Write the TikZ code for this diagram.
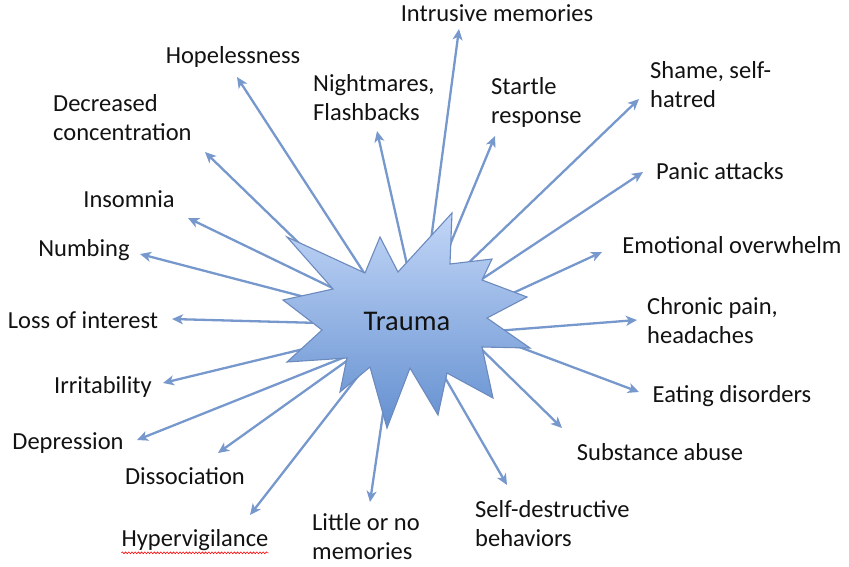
\documentclass[tikz,border=0pt]{standalone}
\usepackage{fontspec}
\setmainfont{Carlito}
\usetikzlibrary{arrows.meta,decorations.pathmorphing}
\definecolor{arrowc}{RGB}{118,152,204}
\definecolor{startop}{RGB}{194,214,247}
\definecolor{starbot}{RGB}{100,144,208}
\definecolor{starline}{RGB}{108,138,190}
\definecolor{txt}{RGB}{18,18,18}
\tikzset{
  lbl/.style={inner sep=0pt, text=txt, font=\fontsize{24.5}{29}\selectfont},
  lbll/.style={lbl, anchor=west, align=left},
  conn/.style={draw=arrowc, line width=2.3pt, -{Stealth[length=11pt,width=10pt,inset=3pt]}},
  starshape/.style={draw=starline, line width=1.1pt, top color=startop, bottom color=starbot, line join=miter},
}
\begin{document}
\begin{tikzpicture}[x=1pt,y=-1pt]
\useasboundingbox (0,0) rectangle (849,566);
% labels
\node[lbl] (intr) at (497,13) {Intrusive memories};
\node[lbl] (hope) at (233,57) {Hopelessness};
\node[lbll] (night) at (313,98) {Nightmares,\\Flashbacks};
\node[lbll] (startle) at (491,102) {Startle\\response};
\node[lbll] (shame) at (650,85) {Shame, self-\\hatred};
\node[lbll] (decr) at (53,118) {Decreased\\concentration};
\node[lbl] (panic) at (720,171) {Panic attacks};
\node[lbl] (insom) at (129,199) {Insomnia};
\node[lbl] (numb) at (84,250) {Numbing};
\node[lbl] (emot) at (732,245) {Emotional overwhelm};
\node[lbl] (loss) at (83,320) {Loss of interest};
\node[lbll] (chron) at (647,321) {Chronic pain,\\headaches};
\node[lbl] (irrit) at (103,387) {Irritability};
\node[lbl] (eat) at (732,396) {Eating disorders};
\node[lbl] (depr) at (68,443) {Depression};
\node[lbl] (dissoc) at (185,476) {Dissociation};
\node[lbl] (subst) at (660,452) {Substance abuse};
\node[lbl] (hyper) at (195,540) {Hypervigilance};
\node[lbll] (little) at (312,537) {Little or no\\memories};
\node[lbll] (selfd) at (475,524) {Self-destructive\\behaviors};
\draw[red, line width=0.6pt, decorate, decoration={snake, amplitude=0.9pt, segment length=3.2pt}]
  ([yshift=-2pt]hyper.south west) -- ([yshift=-2pt]hyper.south east);
% arrow tips and tails
\coordinate (tHope) at (237,77);   \coordinate (sHope) at (370,282);
\coordinate (tNight) at (377,131); \coordinate (sNight) at (410,278);
\coordinate (tIntr) at (459,29);   \coordinate (sIntr) at (429,255);
\coordinate (tStart) at (495,136); \coordinate (sStart) at (447,252);
\coordinate (tShame) at (639,99);  \coordinate (sShame) at (460,271);
\coordinate (tPanic) at (643,172); \coordinate (sPanic) at (470,287);
\coordinate (tEmot) at (602,252);  \coordinate (sEmot) at (500,299);
\coordinate (tChron) at (637,320); \coordinate (sChron) at (495,331);
\coordinate (tEat) at (639,392);   \coordinate (sEat) at (490,336);
\coordinate (tSubst) at (562,428); \coordinate (sSubst) at (472,340);
\coordinate (tSelf) at (507,485);  \coordinate (sSelf) at (436,362);
\coordinate (tLittle) at (370,502);\coordinate (sLittle) at (385,400);
\coordinate (tHyper) at (250,515); \coordinate (sHyper) at (362,371);
\coordinate (tDiss) at (218,453);  \coordinate (sDiss) at (355,355);
\coordinate (tDepr) at (137,440);  \coordinate (sDepr) at (355,353);
\coordinate (tIrr) at (163,383);   \coordinate (sIrr) at (320,345);
\coordinate (tLoss) at (172,319);  \coordinate (sLoss) at (320,323);
\coordinate (tNumb) at (140,254);  \coordinate (sNumb) at (320,301);
\coordinate (tIns) at (188,218);   \coordinate (sIns) at (345,294);
\coordinate (tDecr) at (205,152);  \coordinate (sDecr) at (335,278);
\foreach \n in {Hope,Night,Intr,Start,Shame,Panic,Emot,Chron,Eat,Subst,Self,Little,Hyper,Diss,Depr,Irr,Loss,Numb,Ins,Decr}
  \draw[conn] (s\n) -- (t\n);
% star
\path[starshape] (380,237) -- (398,272) -- (452,213) -- (450,264) -- (492,259) -- (482,280)
  -- (527,297) -- (487,318) -- (530,348) -- (482,347) -- (493,398) -- (447,373)
  -- (438,415) -- (410,368) -- (387,428) -- (370,367) -- (340,392) -- (347,358)
  -- (287,362) -- (322,330) -- (283,300) -- (333,289) -- (287,237) -- (365,273) -- cycle;
\node[inner sep=0pt, text=txt, font=\fontsize{28.5}{32}\selectfont] (trauma) at (407,321) {Trauma};
\end{tikzpicture}
\end{document}
